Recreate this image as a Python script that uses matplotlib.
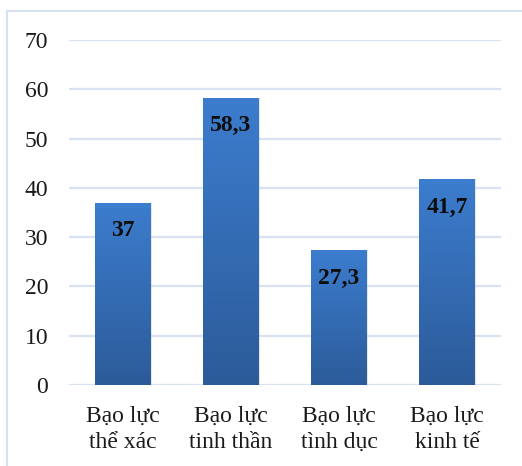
import numpy as np
import matplotlib.pyplot as plt
from matplotlib.colors import LinearSegmentedColormap
from matplotlib.patches import Rectangle

categories = ["Bạo lực\nthể xác", "Bạo lực\ntinh thần", "Bạo lực\ntình dục", "Bạo lực\nkinh tế"]
values = [37, 58.3, 27.3, 41.7]
y_ticks = [0, 10, 20, 30, 40, 50, 60, 70]

plt.rcParams['font.family'] = ['Liberation Serif', 'DejaVu Serif']

W, H = 522, 466
fig = plt.figure(figsize=(W / 100, H / 100), dpi=100)
ax = fig.add_axes([69 / W, (H - 385) / H, (501 - 69) / W, (385 - 40) / H])

# light frame round the chart area
fig.patches.append(Rectangle((7 / W, -0.05), 1.1, (H - 11) / H + 0.05,
                             transform=fig.transFigure, fill=False,
                             edgecolor='#d6e1f2', linewidth=1.5))

ax.set_xlim(-0.5, 3.5)
ax.set_ylim(0, 70)
ax.set_yticks(y_ticks)
ax.yaxis.grid(True, color='#d9e2f3', linewidth=1.6)
ax.set_axisbelow(True)
for s in ax.spines.values():
    s.set_visible(False)
ax.tick_params(length=0, labelsize=17, colors='#1a1a1a')
ax.tick_params(axis='y', pad=15)
ax.tick_params(axis='x', pad=15)
ax.set_xticks(range(len(categories)))
ax.set_xticklabels(categories, linespacing=1.32)

cmap = LinearSegmentedColormap.from_list('bar', ['#2c5b99', '#3c7dce'])
grad = np.linspace(0, 1, 256).reshape(-1, 1)
width = 0.51
bars = ax.bar(range(len(values)), values, width=width, color='none', zorder=2)
for b, v in zip(bars, values):
    x0 = b.get_x()
    # soft shadow to the right of each bar
    ax.add_patch(Rectangle((x0 + 0.012, 0), width, v, color='#b8bcc4', alpha=0.35,
                           zorder=1.5, linewidth=0))
    im = ax.imshow(grad, cmap=cmap, aspect='auto', origin='lower',
                   extent=[x0, x0 + width, 0, v], zorder=2)
    im.set_clip_path(b)
    ax.text(b.get_x() + width / 2, v - 5.7, f"{v:g}".replace('.', ','),
            ha='center', va='center', fontsize=17, fontweight='bold',
            color='#0d0d0d', zorder=3)

ax.set_xlim(-0.5, 3.5)
ax.set_ylim(0, 70)

fig.savefig('out.png', dpi=100)
